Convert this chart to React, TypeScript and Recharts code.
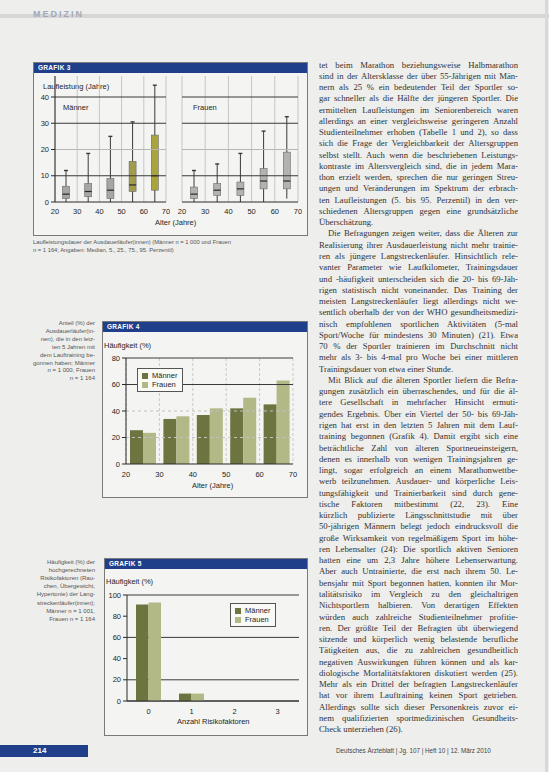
import React from "react";
import {
  ComposedChart,
  BarChart,
  Bar,
  XAxis,
  YAxis,
  CartesianGrid,
  ReferenceLine,
  Cell,
  Legend,
} from "recharts";

// Grafik 3: Laufleistung (Jahre) je Altersgruppe, Perzentile 5/25/50/75/95
const ageMids = [25, 35, 45, 55, 65];
const ageTicks = [20, 30, 40, 50, 60, 70];
const yearTicks = [0, 10, 20, 30, 40];
const menP5 = [0, 0, 0, 0, 0];
const menP25 = [1.3, 2, 1.3, 4, 4.5];
const menMedian = [3, 4, 4.5, 6.5, 10];
const menP75 = [6, 7, 9, 15.5, 25.5];
const menP95 = [12, 18.5, 25, 30.5, 44.5];
const womenP5 = [0, 0, 0, 0, 1.3];
const womenP25 = [1.3, 2.5, 2.5, 5, 5];
const womenMedian = [3, 4.5, 5, 8, 8];
const womenP75 = [5.7, 7, 7.6, 12.7, 19];
const womenP95 = [12, 14.5, 18.5, 27, 32.5];

// Grafik 4: Anteil (%) Laufbeginn in den letzten 5 Jahren
const startMen = [25.5, 34, 37, 42, 45];
const startWomen = [23.5, 36, 42, 50, 63];
const pctTicks4 = [0, 20, 40, 60, 80];

// Grafik 5: Anzahl Risikofaktoren
const riskCounts = ["0", "1", "2", "3"];
const riskMen = [91, 7, 0, 0];
const riskWomen = [93, 7, 0, 0];
const pctTicks5 = [0, 20, 40, 60, 80, 100];

const seriesNames = ["Männer", "Frauen"];

const SANS = "'Liberation Sans', Arial, sans-serif";
const SERIF = "'Liberation Serif', 'Times New Roman', serif";
const BLUE = "#203f8a";
const DARK = "#6d7440";
const LIGHT = "#b3b887";
const menBoxFill = ["#a6a6a3", "#a6a6a3", "#a6a6a3", "#a09c4c", "#aaa43c"];
const womenBoxFill = "#b2b2ae";

const menData = ageMids.map((age, i) => ({
  age,
  range: [menP5[i], menP95[i]],
  q1: menP25[i],
  med: menMedian[i],
  q3: menP75[i],
}));
const womenData = ageMids.map((age, i) => ({
  age,
  range: [womenP5[i], womenP95[i]],
  q1: womenP25[i],
  med: womenMedian[i],
  q3: womenP75[i],
}));
const startData = ageMids.map((age, i) => ({ age, men: startMen[i], women: startWomen[i] }));
const riskData = riskCounts.map((n, i) => ({ n, men: riskMen[i], women: riskWomen[i] }));

const bodyLines: [string, string?][] = [
  ["tet beim Marathon beziehungsweise Halbmarathon"],
  ["sind in der Altersklasse der über 55-Jährigen mit Män-"],
  ["nern als 25 % ein bedeutender Teil der Sportler so-"],
  ["gar schneller als die Hälfte der jüngeren Sportler. Die"],
  ["ermittelten Laufleistungen im Seniorenbereich waren"],
  ["allerdings an einer vergleichsweise geringeren Anzahl"],
  ["Studienteilnehmer erhoben (Tabelle 1 und 2), so dass"],
  ["sich die Frage der Vergleichbarkeit der Altersgruppen"],
  ["selbst stellt. Auch wenn die beschriebenen Leistungs-"],
  ["kontraste im Altersvergleich sind, die in jedem Mara-"],
  ["thon erzielt werden, sprechen die nur geringen Streu-"],
  ["ungen und Veränderungen im Spektrum der erbrach-"],
  ["ten Laufleistungen (5. bis 95. Perzentil) in den ver-"],
  ["schiedenen Altersgruppen gegen eine grundsätzliche"],
  ["Überschätzung.", "end"],
  ["Die Befragungen zeigen weiter, dass die Älteren zur", "indent"],
  ["Realisierung ihrer Ausdauerleistung nicht mehr trainie-"],
  ["ren als jüngere Langstreckenläufer. Hinsichtlich rele-"],
  ["vanter Parameter wie Laufkilometer, Trainingsdauer"],
  ["und -häufigkeit unterscheiden sich die 20- bis 69-Jäh-"],
  ["rigen statistisch nicht voneinander. Das Training der"],
  ["meisten Langstreckenläufer liegt allerdings nicht we-"],
  ["sentlich oberhalb der von der WHO gesundheitsmedizi-"],
  ["nisch empfohlenen sportlichen Aktivitäten (5-mal"],
  ["Sport/Woche für mindestens 30 Minuten) (21). Etwa"],
  ["70 % der Sportler trainieren im Durchschnitt nicht"],
  ["mehr als 3- bis 4-mal pro Woche bei einer mittleren"],
  ["Trainingsdauer von etwa einer Stunde.", "end"],
  ["Mit Blick auf die älteren Sportler liefern die Befra-", "indent"],
  ["gungen zusätzlich ein überraschendes, und für die äl-"],
  ["tere Gesellschaft in mehrfacher Hinsicht ermuti-"],
  ["gendes Ergebnis. Über ein Viertel der 50- bis 69-Jäh-"],
  ["rigen hat erst in den letzten 5 Jahren mit dem Lauf-"],
  ["training begonnen (Grafik 4). Damit ergibt sich eine"],
  ["beträchtliche Zahl von älteren Sportneueinsteigern,"],
  ["denen es innerhalb von wenigen Trainingsjahren ge-"],
  ["lingt, sogar erfolgreich an einem Marathonwettbe-"],
  ["werb teilzunehmen. Ausdauer- und körperliche Leis-"],
  ["tungsfähigkeit und Trainierbarkeit sind durch gene-"],
  ["tische Faktoren mitbestimmt (22, 23). Eine"],
  ["kürzlich publizierte Längsschnittstudie mit über"],
  ["50-jährigen Männern belegt jedoch eindrucksvoll die"],
  ["große Wirksamkeit von regelmäßigem Sport im höhe-"],
  ["ren Lebensalter (24): Die sportlich aktiven Senioren"],
  ["hatten eine um 2,3 Jahre höhere Lebenserwartung."],
  ["Aber auch Untrainierte, die erst nach ihrem 50. Le-"],
  ["bensjahr mit Sport begonnen hatten, konnten ihr Mor-"],
  ["talitätsrisiko im Vergleich zu den gleichaltrigen"],
  ["Nichtsportlern halbieren. Von derartigen Effekten"],
  ["würden auch zahlreiche Studienteilnehmer profitie-"],
  ["ren. Der größte Teil der Befragten übt überwiegend"],
  ["sitzende und körperlich wenig belastende berufliche"],
  ["Tätigkeiten aus, die zu zahlreichen gesundheitlich"],
  ["negativen Auswirkungen führen können und als kar-"],
  ["diologische Mortalitätsfaktoren diskutiert werden (25)."],
  ["Mehr als ein Drittel der befragten Langstreckenläufer"],
  ["hat vor ihrem Lauftraining keinen Sport getrieben."],
  ["Allerdings sollte sich dieser Personenkreis zuvor ei-"],
  ["nem qualifizierten sportmedizinischen Gesundheits-"],
  ["Check unterziehen (26).", "end"],
];

const caption3 = [
  "Laufleistungsdauer der Ausdauerläufer(innen) (Männer n = 1 000 und Frauen",
  "n = 1 164; Angaben: Median, 5., 25., 75., 95. Perzentil)",
];
const caption4 = [
  "Anteil (%) der",
  "Ausdauerläufer(in-",
  "nen), die in den letz-",
  "ten 5 Jahren mit",
  "dem Lauftraining be-",
  "gonnen haben; Männer",
  "n = 1 000, Frauen",
  "n = 1 164",
];
const caption5 = [
  "Häufigkeit (%) der",
  "hochgerechneten",
  "Risikofaktoren (Rau-",
  "chen, Übergewicht,",
  "Hypertonie) der Lang-",
  "streckenläufer(innen);",
  "Männer n = 1 001,",
  "Frauen n = 1 164",
];

const tick = { fill: "#1e1e1e", fontSize: 7.5, fontFamily: SANS };

function BoxShape(props: any) {
  const { x, y, width, height, payload, fill } = props;
  if (!payload) return null;
  const [lo, hi] = payload.range;
  const top = Math.min(y, y + height);
  const k = hi === lo ? 0 : Math.abs(height) / (hi - lo);
  const py = (v: number) => top + (hi - v) * k;
  const cx = x + width / 2;
  const bw = 7;
  return (
    <g>
      <line x1={cx} x2={cx} y1={py(hi)} y2={py(lo)} stroke="#3a3a3a" strokeWidth={1} />
      <line x1={cx - 2} x2={cx + 2} y1={py(hi)} y2={py(hi)} stroke="#3a3a3a" strokeWidth={1.4} />
      <rect
        x={cx - bw / 2}
        y={py(payload.q3)}
        width={bw}
        height={py(payload.q1) - py(payload.q3)}
        fill={fill}
        stroke="#6a6a6a"
        strokeWidth={0.6}
      />
      <line x1={cx - bw / 2} x2={cx + bw / 2} y1={py(payload.med)} y2={py(payload.med)} stroke="#2a2a2a" strokeWidth={1.2} />
    </g>
  );
}

function LegendBox({ payload }: any) {
  const items = [...(payload || [])].sort(
    (a: any, b: any) => seriesNames.indexOf(a.value) - seriesNames.indexOf(b.value)
  );
  return (
    <div style={{ border: "1px solid #555", background: "#f9f9f6", padding: "2px 5px 2px 4px", fontFamily: SANS, fontSize: 7.5, lineHeight: "9px", color: "#1e1e1e" }}>
      {items.map((p: any) => (
        <div key={p.value} style={{ display: "flex", alignItems: "center" }}>
          <span style={{ display: "inline-block", width: 6, height: 6, background: p.color, marginRight: 4 }} />
          {p.value}
        </div>
      ))}
    </div>
  );
}

function Panel({ left, top, width, height, children }: any) {
  return (
    <div style={{ position: "absolute", left, top, width, height, border: "1px solid #7a7a7a", background: "#f4f4f2", boxSizing: "border-box" }}>
      {children}
    </div>
  );
}

function TitleBar({ label }: { label: string }) {
  return (
    <div style={{ height: 10, background: BLUE, color: "#fff", fontSize: 6.5, fontWeight: "bold", lineHeight: "10px", paddingLeft: 4, letterSpacing: 0.3 }}>
      {label}
    </div>
  );
}

function Txt({ left, top, size = 7.5, children, style }: any) {
  return (
    <div style={{ position: "absolute", left, top, fontSize: size, lineHeight: 1, color: "#1e1e1e", whiteSpace: "nowrap", ...style }}>
      {children}
    </div>
  );
}

function BoxPanel({ data, fills, showY }: any) {
  return (
    <ComposedChart width={showY ? 140 : 124} height={146} data={data} margin={{ top: 6, right: 4, left: showY ? 0 : 4, bottom: 0 }}>
      <CartesianGrid horizontal={false} stroke="#c6c6c4" />
      <XAxis dataKey="age" type="number" domain={[20, 70]} ticks={ageTicks} interval={0} tick={tick} tickLine={false} tickMargin={1} axisLine={{ stroke: "#2a2a2a" }} height={14} />
      <YAxis type="number" domain={[0, 48]} ticks={yearTicks} hide={!showY} tick={tick} tickSize={4} tickLine={{ stroke: "#2a2a2a" }} axisLine={{ stroke: "#2a2a2a" }} width={25} />
      <ReferenceLine y={40} stroke="#3a3a3a" />
      <ReferenceLine y={30} stroke="#3a3a3a" />
      <ReferenceLine y={20} stroke="#b5b5b2" />
      <ReferenceLine y={10} stroke="#3a3a3a" />
      <Bar dataKey="range" barSize={8} shape={<BoxShape />} isAnimationActive={false}>
        {data.map((_: any, i: number) => (
          <Cell key={i} fill={fills[i]} />
        ))}
      </Bar>
    </ComposedChart>
  );
}

export default function App() {
  return (
    <div style={{ position: "absolute", left: 0, top: 0, width: 549, height: 772, background: "#eeeeec", overflow: "hidden", fontFamily: SANS }}>
      {/* Kopfzeile */}
      <div style={{ position: "absolute", left: 0, top: 14, width: 549, height: 4, background: "#d6d6d4" }} />
      <Txt left={33} top={10} size={9} style={{ color: "#a3a8ba", letterSpacing: 2, fontWeight: "bold" }}>
        MEDIZIN
      </Txt>
      <div style={{ position: "absolute", left: 545, top: 0, width: 3, height: 772, background: "#d8d8d6" }} />

      {/* Grafik 3 */}
      <Panel left={33} top={62} width={275} height={174}>
        <TitleBar label="GRAFIK 3" />
      </Panel>
      <Txt left={43} top={83}>Laufleistung (Jahre)</Txt>
      <div style={{ position: "absolute", left: 30, top: 70 }}>
        <BoxPanel data={menData} fills={menBoxFill} showY />
      </div>
      <div style={{ position: "absolute", left: 178, top: 70 }}>
        <BoxPanel data={womenData} fills={womenData.map(() => womenBoxFill)} showY={false} />
      </div>
      <Txt left={63} top={104}>Männer</Txt>
      <Txt left={193} top={104}>Frauen</Txt>
      <Txt left={155} top={219}>Alter (Jahre)</Txt>
      {caption3.map((line, i) => (
        <Txt key={i} left={33} top={240 + i * 8} size={5.8} style={{ color: "#555" }}>
          {line}
        </Txt>
      ))}

      {/* Grafik 4 */}
      {caption4.map((line, i) => (
        <Txt key={i} left={20} top={320 + i * 7.9} size={6} style={{ color: "#555", width: 75, textAlign: "right" }}>
          {line}
        </Txt>
      ))}
      <Panel left={102} top={321} width={206} height={177}>
        <TitleBar label="GRAFIK 4" />
      </Panel>
      <Txt left={104} top={342}>Häufigkeit (%)</Txt>
      <div style={{ position: "absolute", left: 100, top: 352 }}>
        <BarChart width={199} height={128} data={startData} barGap={0} margin={{ top: 6, right: 6, left: 0, bottom: 0 }}>
          <CartesianGrid horizontal={false} stroke="#c9c9c6" strokeDasharray="3 2" />
          <XAxis dataKey="age" type="number" domain={[20, 70]} ticks={ageTicks} interval={0} tick={tick} tickLine={false} axisLine={{ stroke: "#2a2a2a" }} height={16} />
          <YAxis type="number" domain={[0, 80]} ticks={pctTicks4} tick={tick} tickSize={4} tickLine={{ stroke: "#2a2a2a" }} axisLine={{ stroke: "#2a2a2a" }} width={26} />
          <ReferenceLine y={80} stroke="#3a3a3a" />
          <ReferenceLine y={60} stroke="#3a3a3a" />
          <ReferenceLine y={40} stroke="#c2c2bf" strokeDasharray="3 3" />
          <ReferenceLine y={20} stroke="#c2c2bf" strokeDasharray="3 3" />
          <Legend layout="vertical" align="center" verticalAlign="middle" content={<LegendBox />} wrapperStyle={{ left: 37, top: 16, width: "auto" }} />
          <Bar dataKey="men" name={seriesNames[0]} fill={DARK} barSize={13} isAnimationActive={false} />
          <Bar dataKey="women" name={seriesNames[1]} fill={LIGHT} barSize={13} isAnimationActive={false} />
        </BarChart>
      </div>
      <Txt left={192} top={482}>Alter (Jahre)</Txt>

      {/* Grafik 5 */}
      {caption5.map((line, i) => (
        <Txt key={i} left={20} top={559 + i * 8.1} size={6} style={{ color: "#555", width: 75, textAlign: "right" }}>
          {line}
        </Txt>
      ))}
      <Panel left={104} top={558} width={204} height={178}>
        <TitleBar label="GRAFIK 5" />
      </Panel>
      <Txt left={106} top={578}>Häufigkeit (%)</Txt>
      <div style={{ position: "absolute", left: 100, top: 589 }}>
        <BarChart width={205} height={128} data={riskData} barGap={0} margin={{ top: 6, right: 6, left: 0, bottom: 0 }}>
          <CartesianGrid vertical={false} stroke="#3a3a3a" />
          <XAxis dataKey="n" tick={tick} tickLine={false} axisLine={{ stroke: "#2a2a2a" }} height={16} />
          <YAxis type="number" domain={[0, 100]} ticks={pctTicks5} tick={tick} tickSize={4} tickLine={{ stroke: "#2a2a2a" }} axisLine={{ stroke: "#2a2a2a" }} width={27} />
          <Legend layout="vertical" align="center" verticalAlign="middle" content={<LegendBox />} wrapperStyle={{ left: 130, top: 14, width: "auto" }} />
          <Bar dataKey="men" name={seriesNames[0]} fill={DARK} barSize={12.5} isAnimationActive={false} />
          <Bar dataKey="women" name={seriesNames[1]} fill={LIGHT} barSize={12.5} isAnimationActive={false} />
        </BarChart>
      </div>
      <Txt left={177} top={718}>Anzahl Risikofaktoren</Txt>

      {/* Fließtext rechte Spalte */}
      <div style={{ position: "absolute", left: 319, top: 59.5, width: 199, fontFamily: SERIF, fontSize: 8.7, color: "#333" }}>
        {bodyLines.map(([text, kind], i) => (
          <div
            key={i}
            style={{
              height: 11.27,
              lineHeight: "11.27px",
              overflow: "hidden",
              paddingLeft: kind === "indent" ? 9 : 0,
              textAlign: "justify",
              textAlignLast: kind === "end" ? "left" : "justify",
            }}
          >
            {text}
          </div>
        ))}
      </div>

      {/* Fußzeile */}
      <div style={{ position: "absolute", left: 0, top: 745, width: 88, height: 12, background: BLUE }} />
      <Txt left={33} top={747} size={8} style={{ color: "#fff", fontWeight: "bold" }}>214</Txt>
      <Txt left={336} top={748} size={6.3} style={{ color: "#444" }}>
        Deutsches Ärzteblatt | Jg. 107 | Heft 10 | 12. März 2010
      </Txt>
    </div>
  );
}
